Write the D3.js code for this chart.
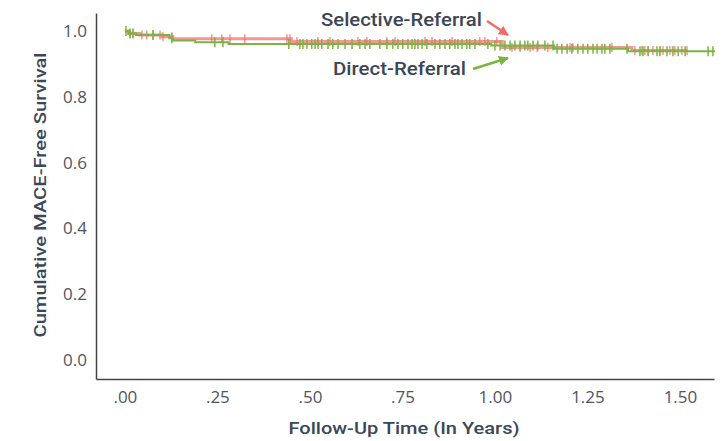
<!DOCTYPE html>
<html><head><meta charset="utf-8">
<script src="https://cdn.jsdelivr.net/npm/d3@7"></script>
<style>
body{margin:0;background:#fff;}
svg{display:block;}
</style></head>
<body>
<svg id="chart" width="724" height="441"></svg>
<script>
// ---- data ----
const xTicks = [0, 0.25, 0.5, 0.75, 1.0, 1.25, 1.5];
const yTicks = [0, 0.2, 0.4, 0.6, 0.8, 1.0];

// Selective-Referral (red): step event times and survival after each step
const selTimes = [0, 0.01, 0.04, 0.10, 0.13, 0.45, 1.02, 1.37];
const selSurv  = [1.0, 0.993, 0.988, 0.983, 0.977, 0.968, 0.950, 0.941];
const selEnd = 1.52;
const selCensor = [0.014,0.022,0.046,0.059,0.076,0.095,0.103,0.127,0.235,0.262,0.284,0.324,0.438,0.446,0.465,0.522,0.554,0.630,0.654,0.708,0.730,0.811,0.830,0.884,0.959,0.973,1.005,1.046,1.068,1.095,1.114,1.143,1.203,1.211,1.316,1.378,1.397,1.405,1.414,1.427,1.446,1.454,1.473,1.486,1.505,1.519];

// Direct-Referral (green)
const dirTimes = [0, 0.01, 0.03, 0.12, 0.13, 0.19, 0.28, 0.99, 1.16, 1.36];
const dirSurv  = [1.0, 0.993, 0.988, 0.978, 0.971, 0.966, 0.961, 0.956, 0.946, 0.939];
const dirEnd = 1.595;
const dirCensor = [0.003,0.014,0.022,0.076,0.127,0.243,0.265,0.443,0.473,0.481,0.492,0.505,0.514,0.522,0.532,0.549,0.562,0.576,0.595,0.614,0.635,0.649,0.662,0.689,0.708,0.724,0.738,0.751,0.765,0.776,0.784,0.792,0.803,0.816,0.838,0.851,0.865,0.878,0.892,0.900,0.911,0.924,0.932,0.946,0.981,1.000,1.014,1.027,1.041,1.054,1.068,1.081,1.089,1.103,1.116,1.135,1.157,1.168,1.181,1.195,1.208,1.224,1.238,1.251,1.265,1.276,1.289,1.297,1.311,1.357,1.392,1.400,1.414,1.438,1.446,1.465,1.481,1.495,1.514,1.576,1.589];

const seriesNames = ["Selective-Referral", "Direct-Referral"];

// ---- drawing ----
const svg = d3.select("#chart");
const x = d3.scaleLinear().domain([-0.078, 1.592]).range([96, 714]);
const y = d3.scaleLinear().domain([-0.058, 1.055]).range([379, 13]);

const RED = "#f06b66", GREEN = "#7cb342", AXIS = "#444", LBL = "#3b4656";

function survAt(times, surv, t){
  let s = surv[0];
  for (let i = 0; i < times.length; i++) if (times[i] <= t) s = surv[i];
  return s;
}
function stepData(times, surv, end){
  const pts = times.map((t,i)=>[t, surv[i]]);
  pts.push([end, surv[surv.length-1]]);
  return pts;
}
const line = d3.line().x(d=>x(d[0])).y(d=>y(d[1])).curve(d3.curveStepAfter);

function drawSeries(times, surv, end, censor, color, width, opacity, tickH){
  const g = svg.append("g");
  g.append("path").datum(stepData(times, surv, end))
    .attr("d", line).attr("fill","none").attr("stroke", color)
    .attr("stroke-width", width).attr("stroke-opacity", opacity);
  g.selectAll("line.c").data(censor).join("line")
    .attr("x1", d=>x(d)).attr("x2", d=>x(d))
    .attr("y1", d=>y(survAt(times,surv,d)) - tickH)
    .attr("y2", d=>y(survAt(times,surv,d)) + tickH)
    .attr("stroke", color).attr("stroke-width", 1.5).attr("stroke-opacity", opacity);
}
drawSeries(selTimes, selSurv, selEnd, selCensor, RED, 3, 0.7, 4.5);
drawSeries(dirTimes, dirSurv, dirEnd, dirCensor, GREEN, 2, 1, 5);

// axes
const xAxis = d3.axisBottom(x).tickValues(xTicks).tickSize(0).tickSizeOuter(0).tickPadding(12)
  .tickFormat(d => d3.format(".2f")(d).replace(/^0/, ""));
const gx = svg.append("g").attr("transform","translate(0,379)").call(xAxis);
const yAxis = d3.axisLeft(y).tickValues(yTicks).tickSize(0).tickSizeOuter(0).tickPadding(9)
  .tickFormat(d3.format(".1f"));
const gy = svg.append("g").attr("transform","translate(96,0)").call(yAxis);
[gx, gy].forEach(g=>{
  g.select(".domain").attr("stroke", AXIS).attr("stroke-width", 1.5);
  g.selectAll("text").attr("font-family","'Open Sans', sans-serif").attr("font-size", 17).attr("fill","#505560");
});

// axis titles
svg.append("text").attr("x", 404).attr("y", 434).attr("text-anchor","middle")
  .attr("font-family","Roboto, sans-serif").attr("font-weight",500).attr("font-size",17)
  .attr("fill", LBL).attr("textLength", 231).attr("lengthAdjust","spacingAndGlyphs")
  .text("Follow-Up Time (In Years)");
svg.append("text").attr("transform","translate(46,195) rotate(-90)").attr("text-anchor","middle")
  .attr("font-family","Roboto, sans-serif").attr("font-weight",500).attr("font-size",17)
  .attr("fill", LBL).attr("textLength", 285).attr("lengthAdjust","spacingAndGlyphs")
  .text("Cumulative MACE-Free Survival");

// series labels + arrows
const defs = svg.append("defs");
[["ahR", RED],["ahG", GREEN]].forEach(([id,c])=>{
  defs.append("marker").attr("id", id).attr("viewBox","0 0 10 10").attr("refX",9).attr("refY",5)
    .attr("markerWidth",4).attr("markerHeight",4).attr("orient","auto")
    .append("path").attr("d","M0,0L10,5L0,10z").attr("fill", c);
});
svg.append("text").attr("x", 321).attr("y", 26)
  .attr("font-family","Roboto, sans-serif").attr("font-weight",500).attr("font-size",19)
  .attr("fill", LBL).attr("textLength",161).attr("lengthAdjust","spacingAndGlyphs")
  .text(seriesNames[0]);
svg.append("text").attr("x", 333).attr("y", 75)
  .attr("font-family","Roboto, sans-serif").attr("font-weight",500).attr("font-size",19)
  .attr("fill", LBL).attr("textLength",133).attr("lengthAdjust","spacingAndGlyphs")
  .text(seriesNames[1]);
svg.append("line").attr("x1",487).attr("y1",21).attr("x2",508).attr("y2",35)
  .attr("stroke", RED).attr("stroke-width",2.5).attr("marker-end","url(#ahR)");
svg.append("line").attr("x1",473).attr("y1",69).attr("x2",508).attr("y2",58)
  .attr("stroke", GREEN).attr("stroke-width",2.5).attr("marker-end","url(#ahG)");
</script>
</body></html>
